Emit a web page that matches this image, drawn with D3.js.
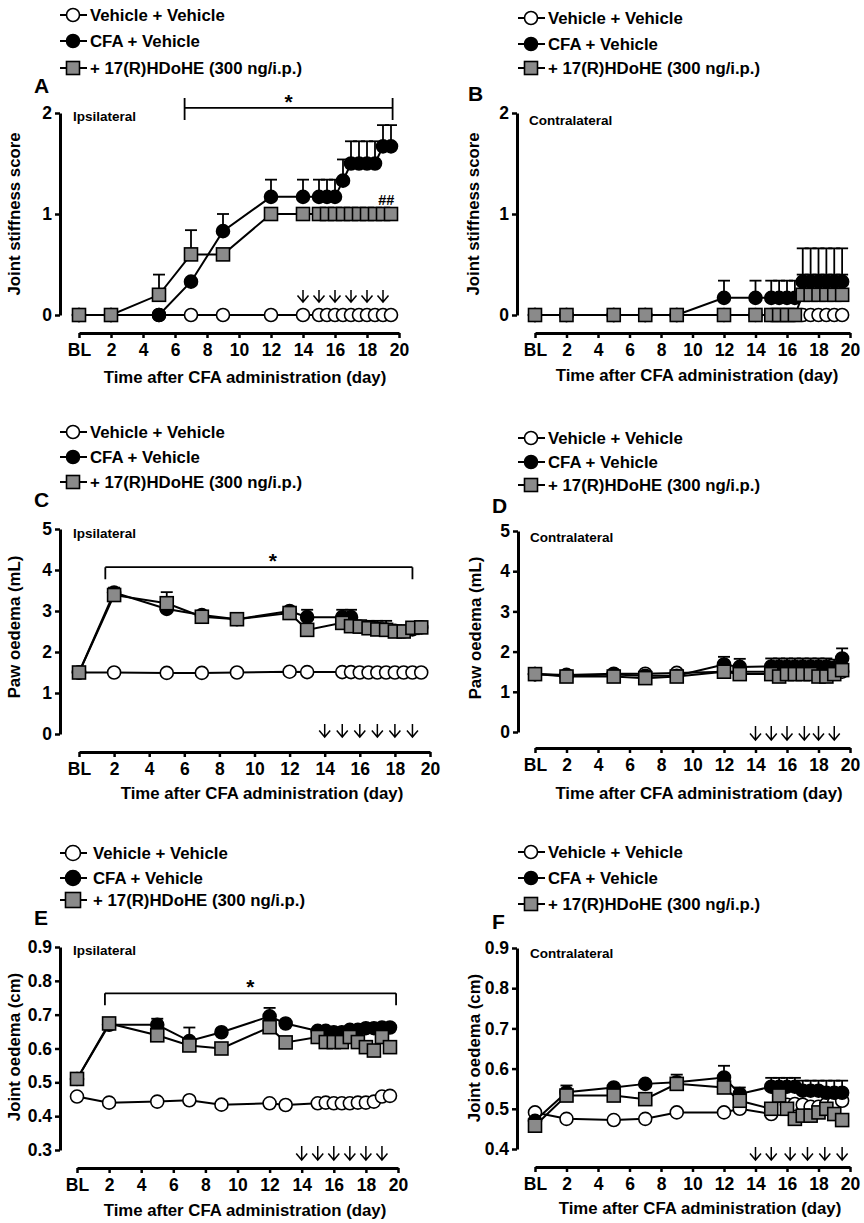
<!DOCTYPE html>
<html>
<head>
<meta charset="utf-8">
<script src="https://cdn.jsdelivr.net/npm/d3@7"></script>
<style>
body{margin:0;background:#fff;}
text{font-family:"Liberation Sans",Arial,sans-serif;font-weight:bold;fill:#000;}
</style>
</head>
<body>
<svg id="fig" width="864" height="1223"></svg>
<script>
var FONT = '"Liberation Sans",Arial,sans-serif';

// shared axis + legend data
var xTickValues = [0,2,4,6,8,10,12,14,16,18,20];
var xTickLabels = ["BL","2","4","6","8","10","12","14","16","18","20"];
var seriesNames = ["Vehicle + Vehicle","CFA + Vehicle","+ 17(R)HDoHE (300 ng/i.p.)"];

// sampling days (BL = 0)
var daysStiff = [0,2,5,7,9,12,14,15,15.5,16,16.5,17,17.5,18,18.5,19,19.5];
var daysOed   = [0,2,5,7,9,12,13,15,15.5,16,16.5,17,17.5,18,18.5,19,19.5];

// A - joint stiffness, ipsilateral
var aVeh    = [0,0,0,0,0,0,0,0,0,0,0,0,0,0,0,0,0];
var aCfa    = [0,0,0,0.33,0.83,1.17,1.17,1.17,1.17,1.17,1.33,1.5,1.5,1.5,1.5,1.67,1.67];
var aCfaErr = [0,0,0,0,0.17,0.17,0.17,0.17,0.17,0.17,0.21,0.22,0.22,0.22,0.22,0.21,0.21];
var aHd     = [0,0,0.2,0.6,0.6,1,1,1,1,1,1,1,1,1,1,1,1];
var aHdErr  = [0,0,0.2,0.24,0,0,0,0,0,0,0,0,0,0,0,0,0];

// B - joint stiffness, contralateral
var bVeh    = [0,0,0,0,0,0,0,0,0,0,0,0,0,0,0,0,0];
var bCfa    = [0,0,0,0,0,0.17,0.17,0.17,0.17,0.17,0.17,0.33,0.33,0.33,0.33,0.33,0.33];
var bCfaErr = [0,0,0,0,0,0.17,0.17,0.17,0.17,0.17,0.17,0.33,0.33,0.33,0.33,0.33,0.33];
var bHd     = [0,0,0,0,0,0,0,0,0,0,0,0.2,0.2,0.2,0.2,0.2,0.2];
var bHdErr  = [0,0,0,0,0,0,0,0,0,0,0,0.2,0.2,0.2,0.2,0.2,0.2];

// C - paw oedema, ipsilateral
var cVeh    = [1.5,1.5,1.49,1.49,1.5,1.52,1.51,1.51,1.51,1.5,1.5,1.5,1.5,1.5,1.5,1.5,1.5];
var cCfa    = [1.5,3.45,3.05,2.9,2.8,3.0,2.85,2.85,2.85,2.62,2.6,2.57,2.55,2.52,2.5,2.55,2.6];
var cCfaErr = [0,0.12,0,0,0,0.08,0.18,0.18,0.18,0.14,0.16,0.19,0.21,0,0,0,0];
var cHd     = [1.5,3.39,3.19,2.86,2.8,2.95,2.54,2.71,2.63,2.62,2.58,2.55,2.54,2.5,2.5,2.59,2.6];
var cHdErr  = [0,0,0.27,0,0,0,0,0,0,0,0,0,0,0,0,0,0];

// D - paw oedema, contralateral
var dVeh    = [1.44,1.42,1.45,1.45,1.47,1.5,1.5,1.5,1.5,1.5,1.5,1.5,1.5,1.5,1.5,1.5,1.5];
var dCfa    = [1.44,1.4,1.43,1.4,1.4,1.68,1.62,1.63,1.63,1.63,1.63,1.63,1.63,1.63,1.63,1.6,1.83];
var dCfaErr = [0,0,0,0,0,0.19,0.2,0.2,0.2,0.2,0.2,0.2,0.2,0.2,0.2,0.2,0.25];
var dHd     = [1.44,1.38,1.38,1.34,1.38,1.5,1.44,1.44,1.38,1.44,1.44,1.44,1.44,1.38,1.38,1.44,1.54];
var dHdErr  = [0,0,0,0,0,0,0,0,0,0,0,0,0,0,0,0,0];

// E - joint oedema, ipsilateral
var eVeh    = [0.458,0.44,0.443,0.447,0.434,0.438,0.433,0.438,0.44,0.438,0.438,0.438,0.44,0.44,0.443,0.458,0.46];
var eCfa    = [0.51,0.67,0.67,0.622,0.648,0.695,0.674,0.652,0.652,0.648,0.648,0.655,0.655,0.66,0.66,0.662,0.662];
var eCfaErr = [0,0,0.018,0.04,0,0.025,0,0,0,0,0,0,0,0,0,0,0];
var eHd     = [0.51,0.674,0.639,0.609,0.6,0.663,0.618,0.634,0.619,0.619,0.619,0.634,0.619,0.604,0.594,0.634,0.604];
var eHdErr  = [0,0,0,0,0,0,0,0,0,0,0,0,0,0,0,0,0];

// F - joint oedema, contralateral
var fVeh    = [0.491,0.475,0.472,0.475,0.491,0.491,0.5,0.487,0.5,0.51,0.512,0.51,0.505,0.505,0.512,0.516,0.52];
var fCfa    = [0.47,0.541,0.553,0.562,0.566,0.578,0.537,0.555,0.555,0.555,0.555,0.545,0.545,0.545,0.54,0.54,0.54];
var fCfaErr = [0,0.017,0,0,0.019,0.029,0.016,0.022,0.022,0.022,0.022,0.025,0.025,0.025,0.03,0.03,0.03];
var fHd     = [0.458,0.533,0.533,0.524,0.562,0.553,0.52,0.5,0.533,0.5,0.475,0.483,0.483,0.491,0.5,0.487,0.472];
var fHdErr  = [0,0,0,0,0,0,0,0,0,0,0,0,0,0,0,0,0];

// annotations (days / values)
var arrowDaysA = [14,15,16,17,18,19];
var arrowDaysC = [14,15,16,17,18,19];
var arrowDaysD = [14,15,16,17.1,18,19];
var arrowDaysE = [14,15,16,17,18,19];
var arrowDaysF = [14,15,16.2,17.3,18.4,19.5];
var sigA = {from:6.6, to:19.6, level:2.05, star:13.1};
var sigC = {from:1.5, to:19, level:4.07, star:11.05};
var sigE = {from:1.74, to:19.88, level:0.763, star:10.8};

var svg = d3.select("#fig");

function drawSeries(g, x, y, days, vals, errs, kind){
  var line = d3.line().x(function(d,i){return x(days[i]);}).y(function(d){return y(d);});
  g.append("path").datum(vals).attr("d", line)
    .attr("fill","none").attr("stroke","#000").attr("stroke-width",2);
  if(errs){
    vals.forEach(function(v,i){
      if(!errs[i]) return;
      var cx = x(days[i]), top = y(v+errs[i]);
      g.append("line").attr("x1",cx).attr("x2",cx).attr("y1",y(v)).attr("y2",top)
        .attr("stroke","#000").attr("stroke-width",1.8);
      g.append("line").attr("x1",cx-6).attr("x2",cx+6).attr("y1",top).attr("y2",top)
        .attr("stroke","#000").attr("stroke-width",1.8);
    });
  }
  drawMarkers(g, vals.map(function(v,i){return [x(days[i]), y(v)];}), kind, 6.5);
}

function drawMarkers(g, pts, kind, r){
  if(kind=="sq"){
    g.selectAll(null).data(pts).enter().append("rect")
      .attr("x",function(d){return d[0]-r;}).attr("y",function(d){return d[1]-r;})
      .attr("width",2*r).attr("height",2*r)
      .attr("fill","#8a8a8a").attr("stroke","#000").attr("stroke-width",1.6);
  } else {
    g.selectAll(null).data(pts).enter().append("circle")
      .attr("cx",function(d){return d[0];}).attr("cy",function(d){return d[1];}).attr("r",r)
      .attr("fill", kind=="open" ? "#fff" : "#000").attr("stroke","#000").attr("stroke-width",1.6);
  }
}

function drawLegend(p){
  var g = svg.append("g");
  var kinds = ["open","filled","sq"];
  p.legRows.forEach(function(ly,i){
    g.append("line").attr("x1",p.legX-13).attr("x2",p.legX+14).attr("y1",ly).attr("y2",ly)
      .attr("stroke","#000").attr("stroke-width",2);
    drawMarkers(g, [[p.legX, ly]], kinds[i], p.legR);
    g.append("text").attr("x",p.legX+p.legGap).attr("y",ly).attr("dy","0.36em")
      .attr("font-size",16.8).text(seriesNames[i]);
  });
}

function drawPanel(p){
  drawLegend(p);
  var g = svg.append("g");
  var x = d3.scaleLinear().domain([0,20]).range(p.xr);
  var y = d3.scaleLinear().domain(p.yd).range(p.yr);

  g.append("text").attr("x",p.letter[0]).attr("y",p.letter[1]).attr("font-size",21).text(p.name);

  var ya = g.append("g").attr("transform","translate("+p.yAxisX+",0)")
    .call(d3.axisLeft(y).tickValues(p.yTicks).tickFormat(p.yFmt)
      .tickSize(5).tickSizeOuter(0).tickPadding(3));
  var xa = g.append("g").attr("transform","translate(0,"+p.xAxisY+")")
    .call(d3.axisBottom(x).tickValues(xTickValues)
      .tickFormat(function(d,i){return xTickLabels[i];})
      .tickSize(5).tickSizeOuter(0).tickPadding(6));
  [ya,xa].forEach(function(a){
    a.attr("font-size",17.5).attr("font-family",FONT).attr("font-weight","bold");
    a.select(".domain").attr("stroke","#000").attr("stroke-width",3);
    a.selectAll(".tick line").attr("stroke","#000").attr("stroke-width",2.5);
  });

  // axis titles
  g.append("text").attr("x",p.xTitle[0]).attr("y",p.xTitle[1]).attr("text-anchor","middle")
    .attr("font-size",16.8).text(p.xLabel);
  g.append("text").attr("transform","translate("+p.yTitle[0]+","+p.yTitle[1]+") rotate(-90)")
    .attr("text-anchor","middle").attr("font-size",16.8).text(p.yLabel);
  g.append("text").attr("x",p.side[0]).attr("y",p.side[1]).attr("font-size",13.5).text(p.sideLabel);

  drawSeries(g, x, y, p.days, p.veh, null, "open");
  drawSeries(g, x, y, p.days, p.cfa, p.cfaErr, "filled");
  drawSeries(g, x, y, p.days, p.hd, p.hdErr, "sq");

  if(p.sig){
    var sy = y(p.sig.level), up = p.sigUp || 0;
    g.append("path")
      .attr("d","M"+x(p.sig.from)+","+(sy+12)+"V"+(sy-up)+"M"+x(p.sig.from)+","+sy+"H"+x(p.sig.to)
        +"M"+x(p.sig.to)+","+(sy+12)+"V"+(sy-up))
      .attr("fill","none").attr("stroke","#000").attr("stroke-width",1.8);
    g.append("text").attr("x",x(p.sig.star)).attr("y",sy+1).attr("text-anchor","middle")
      .attr("font-size",21).text("*");
  }
  if(p.hash){
    g.append("text").attr("x",x(p.hash[0])).attr("y",y(p.hash[1])).attr("text-anchor","middle")
      .attr("font-size",14.5).text("##");
  }
  if(p.arrows){
    p.arrows.forEach(function(d){
      var ax = x(d), t = p.xAxisY + p.arrowY[0], b = p.xAxisY + p.arrowY[1];
      g.append("path").attr("d","M"+ax+","+t+"V"+b+"M"+(ax-5.5)+","+(b-6.5)+"L"+ax+","+b+"L"+(ax+5.5)+","+(b-6.5))
        .attr("fill","none").attr("stroke","#000").attr("stroke-width",1.5);
    });
  }
}

var fmt0 = d3.format("d"), fmt1 = d3.format(".1f");
var xLab = "Time after CFA administration (day)";

drawPanel({name:"A", letter:[34,93], legX:73, legGap:17, legR:6.5, legRows:[15,41,68],
  xr:[79,399], yd:[0,2], yr:[315,113], yTicks:[0,1,2], yFmt:fmt0, yAxisX:60, xAxisY:333,
  xTitle:[245,383], xLabel:xLab, yTitle:[20,214], yLabel:"Joint stiffness score",
  side:[73,121], sideLabel:"Ipsilateral",
  days:daysStiff, veh:aVeh, cfa:aCfa, cfaErr:aCfaErr, hd:aHd, hdErr:aHdErr,
  sig:sigA, sigUp:10, hash:[19.2,1.09], arrows:arrowDaysA, arrowY:[-43,-31]});

drawPanel({name:"B", letter:[468,101], legX:531, legGap:17, legR:6.5, legRows:[18,44,68],
  xr:[535,850], yd:[0,2], yr:[315,113], yTicks:[0,1,2], yFmt:fmt0, yAxisX:517, xAxisY:333,
  xTitle:[697,381], xLabel:xLab, yTitle:[479,214], yLabel:"Joint stiffness score",
  side:[529,125], sideLabel:"Contralateral",
  days:daysStiff, veh:bVeh, cfa:bCfa, cfaErr:bCfaErr, hd:bHd, hdErr:bHdErr});

drawPanel({name:"C", letter:[34,507], legX:73, legGap:17, legR:6.5, legRows:[432,457,482],
  xr:[79,430], yd:[0,5], yr:[734,529], yTicks:[0,1,2,3,4,5], yFmt:fmt0, yAxisX:60, xAxisY:752,
  xTitle:[262,799], xLabel:xLab, yTitle:[20,627], yLabel:"Paw oedema (mL)",
  side:[73,538], sideLabel:"Ipsilateral",
  days:daysOed, veh:cVeh, cfa:cCfa, cfaErr:cCfaErr, hd:cHd, hdErr:cHdErr,
  sig:sigC, arrows:arrowDaysC, arrowY:[-28,-15]});

drawPanel({name:"D", letter:[492,513], legX:531, legGap:17, legR:6.5, legRows:[438,462,485],
  xr:[535,850], yd:[0,5], yr:[732,531], yTicks:[0,1,2,3,4,5], yFmt:fmt0, yAxisX:518, xAxisY:748,
  xTitle:[699,799], xLabel:"Time after CFA administratiom (day)", yTitle:[481,628], yLabel:"Paw oedema (mL)",
  side:[530,542], sideLabel:"Contralateral",
  days:daysOed, veh:dVeh, cfa:dCfa, cfaErr:dCfaErr, hd:dHd, hdErr:dHdErr,
  arrows:arrowDaysD, arrowY:[-22,-8]});

drawPanel({name:"E", letter:[34,925], legX:73, legGap:20, legR:7.5, legRows:[853,878,900],
  xr:[77,398], yd:[0.3,0.9], yr:[1150,947], yTicks:[0.3,0.4,0.5,0.6,0.7,0.8,0.9], yFmt:fmt1, yAxisX:60, xAxisY:1168,
  xTitle:[245,1216], xLabel:xLab, yTitle:[20,1047], yLabel:"Joint oedema (cm)",
  side:[73,955], sideLabel:"Ipsilateral",
  days:daysOed, veh:eVeh, cfa:eCfa, cfaErr:eCfaErr, hd:eHd, hdErr:eHdErr,
  sig:sigE, arrows:arrowDaysE, arrowY:[-22,-8]});

drawPanel({name:"F", letter:[492,929], legX:531, legGap:17, legR:6.5, legRows:[852,878,904],
  xr:[535,850], yd:[0.4,0.9], yr:[1149,948], yTicks:[0.4,0.5,0.6,0.7,0.8,0.9], yFmt:fmt1, yAxisX:517, xAxisY:1167,
  xTitle:[700,1214], xLabel:xLab, yTitle:[480,1048], yLabel:"Joint oedema (cm)",
  side:[530,958], sideLabel:"Contralateral",
  days:daysOed, veh:fVeh, cfa:fCfa, cfaErr:fCfaErr, hd:fHd, hdErr:fHdErr,
  arrows:arrowDaysF, arrowY:[-20,-7]});
</script>
</body>
</html>
